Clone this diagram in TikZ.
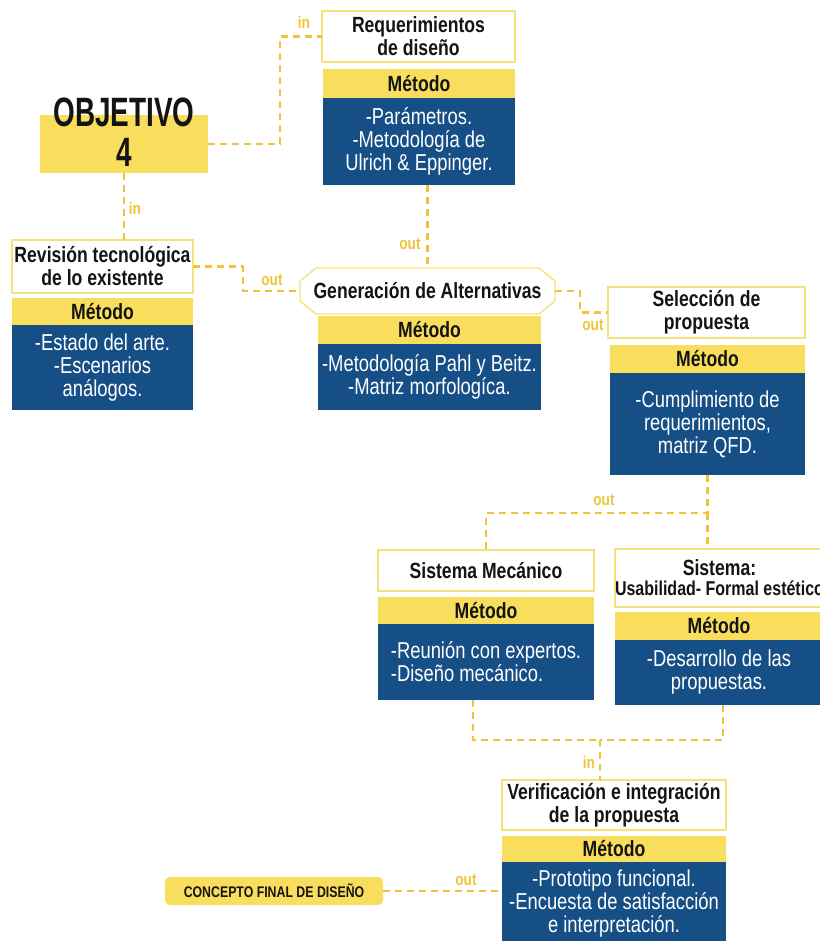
\documentclass[tikz,border=0pt]{standalone}
\usepackage{fontspec}
\setmainfont{Liberation Sans}[FakeStretch=0.8]
\newfontfamily\objfamily{Liberation Sans}[FakeStretch=0.68]
\usetikzlibrary{calc}
\definecolor{ybar}{RGB}{248,222,92}
\definecolor{yedge}{RGB}{246,226,122}
\definecolor{navy}{RGB}{22,79,134}
\definecolor{linkgold}{RGB}{240,196,58}
\definecolor{ink}{RGB}{20,20,20}
\newcommand\hdfont{\bfseries\fontsize{22}{23}\selectfont}
\newcommand\mtfont{\bfseries\fontsize{22}{23}\selectfont}
\newcommand\bdfont{\fontsize{23}{23}\selectfont}
\newcommand\tgfont{\bfseries\fontsize{17}{18}\selectfont}
\newcommand\objfont{\objfamily\bfseries\fontsize{41}{40}\selectfont}
\begin{document}
\begin{tikzpicture}[x=1pt,y=-1pt,
  blk/.style={anchor=north west, inner sep=0pt, outer sep=0pt, align=center},
  head/.style={blk, draw=yedge, line width=1.4pt, fill=white, text=ink, font=\hdfont},
  metodo/.style={blk, fill=ybar, text=ink, font=\mtfont},
  body/.style={blk, fill=navy, text=white, font=\bdfont},
  link/.style={draw=linkgold, line width=2.4pt, dash pattern=on 7pt off 5pt},
  tag/.style={text=linkgold, font=\tgfont, inner sep=0pt}]
\useasboundingbox[fill=white] (0,0) rectangle (819,941);

% objective
\node[blk, fill=ybar, minimum width=168, minimum height=58] (obj) at (40,115) {};
\node[text=ink, font=\objfont, align=center, inner sep=0pt] (objtxt) at ([yshift=12]obj.center) {OBJETIVO\\4};

% design requirements
\node[head, minimum width=193, minimum height=51] (req) at (322,11) {Requerimientos\\de diseño};
\node[metodo, minimum width=192, minimum height=29] (reqm) at (323,69) {Método};
\node[body, minimum width=192, minimum height=87] (reqb) at (323,98) {-Parámetros.\\-Metodología de\\Ulrich \& Eppinger.};

% review of existing technology
\node[head, minimum width=181, minimum height=53] (rev) at (12,240) {Revisión tecnológica\\de lo existente};
\node[metodo, minimum width=181, minimum height=27] (revm) at (12,298) {Método};
\node[body, minimum width=181, minimum height=85] (revb) at (12,325) {-Estado del arte.\\-Escenarios\\análogos.};

% generation of alternatives
\node[blk, minimum width=255, minimum height=46, text=ink, font=\hdfont] (gen) at (300,268) {Generación de Alternativas};
\draw[yedge, line width=1.4pt]
  ([xshift=16]gen.north west) -- ([xshift=-16]gen.north east) -- ([yshift=-13]gen.north east)
  -- ([yshift=13]gen.south east) -- ([xshift=-16]gen.south east) -- ([xshift=16]gen.south west)
  -- ([yshift=13]gen.south west) -- ([yshift=-13]gen.north west) -- cycle;
\node[metodo, minimum width=223, minimum height=28] (genm) at (318,316) {Método};
\node[body, minimum width=223, minimum height=66] (genb) at (318,344) {-Metodología Pahl y Beitz.\\-Matriz morfologíca.};

% proposal selection
\node[head, minimum width=197, minimum height=51] (sel) at (608,287) {Selección de\\propuesta};
\node[metodo, minimum width=195, minimum height=28] (selm) at (610,345) {Método};
\node[body, minimum width=195, minimum height=102] (selb) at (610,373) {-Cumplimiento de\\requerimientos,\\matriz QFD.};

% mechanical system
\node[head, minimum width=216, minimum height=41] (mec) at (378,550) {Sistema Mecánico};
\node[metodo, minimum width=216, minimum height=27] (mecm) at (378,597) {Método};
\node[body, minimum width=216, minimum height=76, align=left] (mecb) at (378,624) {-Reunión con expertos.\\-Diseño mecánico.};

% usability / aesthetics system
\node[head, minimum width=208, minimum height=58] (usa) at (615,549) {Sistema:\\[-3pt]{\bfseries\fontsize{20}{21}\selectfont Usabilidad- Formal estético}};
\node[metodo, minimum width=208, minimum height=28] (usam) at (615,612) {Método};
\node[body, minimum width=208, minimum height=65] (usab) at (615,640) {-Desarrollo de las\\propuestas.};

% verification and integration
\node[head, minimum width=224, minimum height=50] (ver) at (502,780) {Verificación e integración\\de la propuesta};
\node[metodo, minimum width=224, minimum height=26] (verm) at (502,836) {Método};
\node[body, minimum width=224, minimum height=84] (verb) at (502,862) {-Prototipo funcional.\\-Encuesta de satisfacción\\e interpretación.};

% final concept
\node[blk, fill=ybar, rounded corners=5pt, minimum width=218, minimum height=28, text=ink,
      font=\bfseries\fontsize{15.4}{16}\selectfont] (con) at (165,877) {CONCEPTO FINAL DE DISEÑO};

% connectors
\draw[link] (obj.east) -- ++(72,0) |- (req.west);
\node[tag] (t1) at (304,22) {in};
\draw[link] (obj.south) -- (obj.south |- rev.north);
\node[tag] (t2) at (135,208) {in};
\draw[link] (rev.east) -- ++(50,0) |- (gen.west);
\node[tag] (t3) at (272,280) {out};
\draw[link] (reqb.south -| gen.north) -- (gen.north);
\node[tag] (t4) at (410,244) {out};
\draw[link] (gen.east) -- ++(25,0) |- (sel.west);
\node[tag] (t5) at (593,325) {out};
\coordinate (split) at ($(selb.south)+(0,38)$);
\draw[link] (selb.south) -- (split) -| (mec.north);
\draw[link] (split) -- (split |- usa.north);
\node[tag] (t6) at (604,500) {out};
\coordinate (merge) at (600,740);
\draw[link] ([xshift=-13]mecb.south) |- (merge);
\draw[link] ([xshift=4]usab.south) |- (merge);
\draw[link] (merge) -- (merge |- ver.north);
\node[tag] (t7) at (589,762) {in};
\draw[link] (con.east) -- (con.east -| verb.west);
\node[tag] (t8) at (466,880) {out};
\end{tikzpicture}
\end{document}
